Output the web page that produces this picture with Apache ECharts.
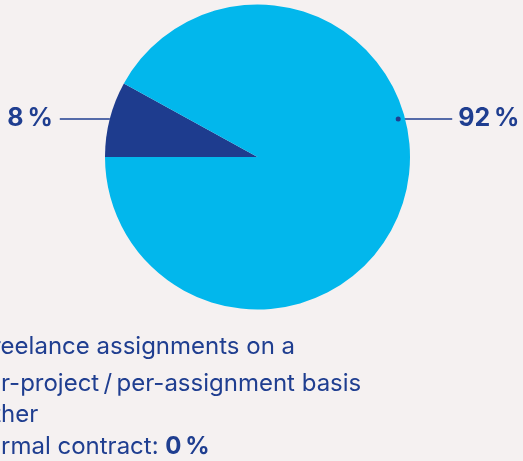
<!DOCTYPE html>
<html>
<head>
<meta charset="utf-8">
<style>
  html, body { margin: 0; padding: 0; background: #f5f1f1; }
  #chart { width: 523px; height: 461px; }
</style>
<script src="https://cdn.jsdelivr.net/npm/echarts@6/dist/echarts.min.js"></script>
</head>
<body>
<div id="chart"></div>
<script>
// Employment arrangement shares (percent)
const categories = ['Other', 'Freelance assignments on a per-project / per-assignment basis'];
const shares = [8, 92];
const sliceColors = ['#1e3c8e', '#02b7ec'];

// Legend text below the pie; the formal-contract share is shown in bold
const legendLines = ['Freelance assignments on a', 'per-project\u2009/\u2009per-assignment basis', 'Other', 'Formal contract: '];
const formalContractShare = 0;

const textColor = '#1f3e90';
const legendFont = 'Inter';
const legendSize = 24;

const cx = 257.5, cy = 157, R = 152.5;

const total = shares.reduce((a, b) => a + b, 0);
const halfAngle = shares[0] / total * Math.PI; // half the angular width of the first slice
const anchorDx = R * Math.cos(halfAngle);
const anchorDy = R * Math.sin(halfAngle);
const leftAnchor = [cx - anchorDx, cy - anchorDy];
const rightAnchor = [cx + anchorDx - 7, cy - anchorDy];

const chart = echarts.init(document.getElementById('chart'), null, { renderer: 'canvas' });

// measure hidden prefixes so that each legend line starts just at the left edge
const ctx = document.createElement('canvas').getContext('2d');
ctx.font = legendSize + 'px ' + legendFont;
const prefixWidth = s => ctx.measureText(s.slice(0, 2)).width;

const legendCenters = [347, 384, 415, 447];
const legendGraphics = legendLines.map((line, i) => ({
  type: 'text',
  x: 1 - prefixWidth(line),
  y: legendCenters[i],
  style: {
    text: i === 3 ? line + '{b|' + formalContractShare + '\u2009%}' : line,
    rich: i === 3 ? { b: { fontWeight: 'bold', fontFamily: legendFont, fontSize: legendSize, fill: textColor } } : undefined,
    fontFamily: legendFont,
    fontSize: legendSize,
    fill: textColor,
    verticalAlign: 'middle'
  }
}));

chart.setOption({
  backgroundColor: '#f5f1f1',
  animation: false,
  series: [{
    type: 'pie',
    center: [cx, cy],
    radius: R,
    startAngle: 180,
    clockwise: true,
    avoidLabelOverlap: false,
    silent: true,
    itemStyle: { borderWidth: 0 },
    data: categories.map((name, i) => ({ name, value: shares[i], itemStyle: { color: sliceColors[i] } })),
    label: {
      show: true,
      formatter: '{c}\u2009%',
      color: textColor,
      fontFamily: legendFont,
      fontWeight: 'bold',
      fontSize: 25
    },
    labelLine: {
      show: true,
      lineStyle: { color: textColor, width: 1.5 }
    },
    labelLayout: function (params) {
      if (params.dataIndex === 0) {
        const [x, y] = leftAnchor;
        return {
          x: x - 57, y: y - 1, align: 'right', verticalAlign: 'middle',
          labelLinePoints: [[x, y], [x - 50, y], [x - 50, y]]
        };
      }
      const [x, y] = rightAnchor;
      return {
        x: x + 60, y: y - 1, align: 'left', verticalAlign: 'middle',
        labelLinePoints: [[x, y], [x + 54, y], [x + 54, y]]
      };
    }
  }],
  graphic: [
    { type: 'circle', shape: { cx: rightAnchor[0], cy: rightAnchor[1], r: 2.5 }, style: { fill: textColor }, z: 100 }
  ].concat(legendGraphics)
});
</script>
</body>
</html>
